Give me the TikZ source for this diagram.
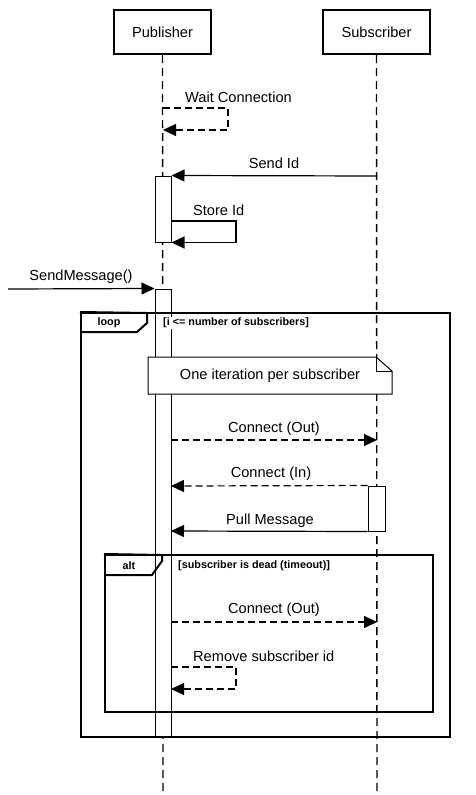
\documentclass[tikz,border=0pt]{standalone}
\usepackage{fontspec}
\setmainfont{Liberation Sans}
\usetikzlibrary{arrows.meta}
\begin{document}
\begin{tikzpicture}[x=1pt,y=-1pt,
 actor/.style={draw,line width=2pt,fill=white,minimum height=44pt,inner sep=0pt,font=\fontsize{14.6}{16}\selectfont},
 life/.style={line width=1.4pt,dash pattern=on 8pt off 5pt},
 actbar/.style={draw,line width=1pt,fill=white,minimum width=16pt,inner sep=0pt},
 msg/.style={line width=1.2pt,-{Triangle[length=13pt,width=12pt]}},
 rmsg/.style={msg,dash pattern=on 7pt off 4pt},
 lbl/.style={font=\fontsize{14.6}{16}\selectfont,inner sep=0pt},
 frm/.style={draw,line width=2pt},
 tag/.style={font=\bfseries\fontsize{10.8}{12}\selectfont,inner sep=0pt},
 notebox/.style={draw,line width=1pt,fill=white},
]
\useasboundingbox (0,0) rectangle (475,795);
% actors
\node[actor,minimum width=97pt] (pub) at (162.5,32) {Publisher};
\node[actor,minimum width=107pt] (sub) at (376.5,32) {Subscriber};
\coordinate (pubend) at (163,795);
\coordinate (subend) at (377,795);
\draw[life] (pub.south) -- (pubend);
\draw[life] (sub.south) -- (subend);
% activation bars
\node[actbar,minimum height=66pt] (a1) at (163,209) {};
\node[actbar,minimum height=448pt] (a2) at (163,513) {};
\node[actbar,minimum width=17pt,minimum height=45pt] (s2) at (376.5,508.5) {};
% loop frame
\node[frm,minimum width=369pt,minimum height=424pt,inner sep=0pt] (loop) at (265.5,525) {};
\draw[frm] (loop.north west) -- (147,313) -- (147,323) -- (137,332) -- (81,332);
\node[tag] (looptag) at (109,323) {loop};
\node[tag,anchor=west,fill=white,inner ysep=1pt] (loopguard) at (163,323) {[i <= number of subscribers]};
% alt frame
\node[frm,minimum width=328pt,minimum height=157pt,inner sep=0pt] (alt) at (269,633.5) {};
\draw[frm] (alt.north west) -- (162,555) -- (162,561) -- (152,575) -- (105,575);
\node[tag] (alttag) at (129,566) {alt};
\node[tag,anchor=west] (altguard) at (178,566) {[subscriber is dead (timeout)]};
% note
\draw[notebox] (148,357) -- (376,357) -- (392,371) -- (392,394) -- (148,394) -- cycle;
\draw[line width=1pt] (376,357) -- (376,371) -- (392,371);
\node[lbl] (note) at (270,375.5) {One iteration per subscriber};
% messages
\coordinate (w1) at (163,108);
\coordinate (w2) at (163,130);
\draw[rmsg] (w1) -- ++(65,0) |- (w2);
\node[lbl,anchor=west] (wl) at (185,97) {Wait Connection};

\coordinate (sid) at (377,176);
\draw[msg] (sid) -- (a1.north east);
\node[lbl] (sl) at (274,163) {Send Id};

\coordinate (st) at (171,221);
\draw[msg] (st) -- ++(65,0) |- (a1.south east);
\node[lbl,anchor=west] (stl) at (193,210) {Store Id};

\coordinate (ext) at (8,289);
\draw[msg] (ext) -- (a2.north west);
\node[lbl] (sml) at (81,277) {SendMessage()};

\coordinate (co1a) at (171,440);
\coordinate (co1b) at (377,440);
\draw[rmsg] (co1a) -- (co1b);
\node[lbl] (co1l) at (274,429) {Connect (Out)};

\coordinate (ci) at (171,486);
\draw[rmsg] (s2.north west) -- (ci);
\node[lbl] (cil) at (271,474) {Connect (In)};

\coordinate (pm) at (171,531);
\draw[msg] (s2.south west) -- (pm);
\node[lbl] (pml) at (270,521) {Pull Message};

\coordinate (co2a) at (171,622);
\coordinate (co2b) at (377,622);
\draw[rmsg] (co2a) -- (co2b);
\node[lbl] (co2l) at (274,610) {Connect (Out)};

\coordinate (r1) at (171,667);
\coordinate (r2) at (171,689);
\draw[rmsg] (r1) -- ++(65,0) |- (r2);
\node[lbl,anchor=west] (rl) at (193,656) {Remove subscriber id};
\end{tikzpicture}
\end{document}
